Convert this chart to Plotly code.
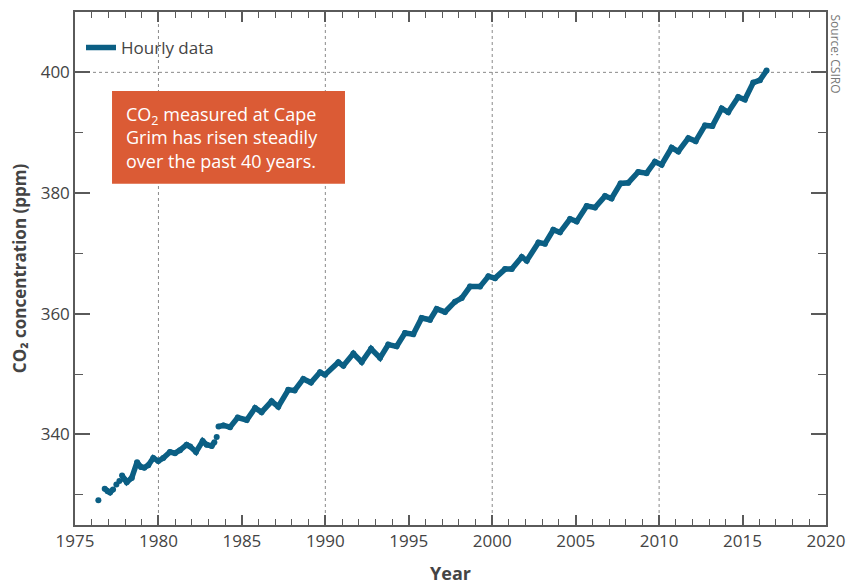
import plotly.graph_objects as go

# Cape Grim CO2 (ppm); None marks data gaps
years = [1976.40, None,
         1976.78, 1976.95, 1977.10, 1977.28, None,
         1977.48, None, 1977.66, None,
         1977.82, 1977.95, 1978.10, 1978.40, 1978.72, 1978.95, 1979.15, 1979.39,
         1979.69, 1979.99, 1980.29, 1980.69, 1980.99, 1981.29, 1981.69, 1981.90,
         1982.25, 1982.65, 1982.89, 1983.19, 1983.35, None,
         1983.49, None,
         1983.60, 1983.89, 1984.29, 1984.75, 1985.29, 1985.79, 1986.18, 1986.78,
         1987.18, 1987.78, 1988.16, 1988.68, 1989.14, 1989.68, 1989.98, 1990.78,
         1991.08, 1991.68, 1992.18, 1992.74, 1993.28, 1993.77, 1994.27, 1994.77,
         1995.27, 1995.77, 1996.27, 1996.67, 1997.17, 1997.77, 1998.17, 1998.67,
         1999.27, 1999.77, 2000.17, 2000.77, 2001.17, 2001.77, 2002.07, 2002.77,
         2003.16, 2003.66, 2004.06, 2004.66, 2005.06, 2005.66, 2006.16, 2006.76,
         2007.15, 2007.69, 2008.15, 2008.75, 2009.25, 2009.75, 2010.15, 2010.75,
         2011.15, 2011.75, 2012.19, 2012.75, 2013.19, 2013.75, 2014.14, 2014.74,
         2015.14, 2015.64, 2016.04, 2016.44]
co2 = [329.1, None,
       331.0, 330.6, 330.4, 330.9, None,
       331.7, None, 332.3, None,
       333.2, 332.6, 332.1, 332.8, 335.4, 334.6, 334.5, 334.9,
       336.1, 335.6, 336.1, 337.1, 336.9, 337.4, 338.3, 338.0,
       337.1, 338.9, 338.3, 338.1, 338.7, None,
       339.6, None,
       341.3, 341.5, 341.2, 342.8, 342.4, 344.4, 343.7, 345.5,
       344.6, 347.4, 347.3, 349.2, 348.6, 350.3, 349.9, 351.95,
       351.4, 353.4, 352.0, 354.2, 352.7, 354.9, 354.6, 356.8,
       356.6, 359.3, 359.0, 360.8, 360.3, 362.0, 362.6, 364.5,
       364.5, 366.2, 365.9, 367.4, 367.4, 369.4, 368.8, 371.8,
       371.6, 373.9, 373.5, 375.7, 375.3, 377.85, 377.6, 379.5,
       379.1, 381.6, 381.7, 383.5, 383.3, 385.2, 384.7, 387.5,
       386.9, 389.1, 388.6, 391.2, 391.1, 394.0, 393.4, 395.9,
       395.5, 398.3, 398.7, 400.3]

x_grid = [1980, 1990, 2000, 2010]
y_grid = [400]

LINE = "#0b5f84"
TXT = "#444444"
AX = "#5a5a5a"
FONT = "Open Sans"

fig = go.Figure()
fig.add_trace(go.Scatter(
    x=years, y=co2, mode="lines", name="Hourly data",
    line=dict(color=LINE, width=5.5), connectgaps=False,
))
# round the ends / isolated readings
fig.add_trace(go.Scatter(
    x=years, y=co2, mode="markers", showlegend=False,
    marker=dict(color=LINE, size=6),
))

for gx in x_grid:
    fig.add_vline(x=gx, line=dict(color="#8a8a8a", width=1, dash="dot"), layer="below")
for gy in y_grid:
    fig.add_hline(y=gy, line=dict(color="#8a8a8a", width=1, dash="dot"), layer="below")

# Callout box
fig.add_shape(type="rect", xref="paper", yref="paper",
              x0=0.0493, x1=0.3595, y0=0.665, y1=0.846,
              fillcolor="#db5b35", line=dict(width=0), layer="above")
fig.add_annotation(xref="paper", yref="paper", x=0.0653, y=0.756,
                   xanchor="left", yanchor="middle", align="left", showarrow=False,
                   text="CO<sub>2</sub> measured at Cape<br>Grim has risen steadily<br>over the past 40 years.",
                   font=dict(family=FONT, size=18, color="white"))
fig.add_annotation(xref="paper", yref="paper", x=1.012, y=1.0,
                   xanchor="center", yanchor="top", textangle=90, showarrow=False,
                   text="Source: CSIRO", font=dict(family=FONT, size=12, color="#777777"))

fig.update_layout(
    width=864, height=586,
    margin=dict(l=67, r=46, t=4, b=69, autoexpand=False),
    paper_bgcolor="white", plot_bgcolor="white",
    font=dict(family=FONT, color=TXT),
    showlegend=True,
    legend=dict(x=0.008, y=0.965, xanchor="left", yanchor="top",
                font=dict(family=FONT, size=17, color=TXT),
                bgcolor="rgba(0,0,0,0)", itemwidth=30),
    xaxis=dict(range=[1975, 2020], dtick=5, tick0=1975, showgrid=False, zeroline=False,
               automargin=False,
               ticks="inside", ticklen=10, tickwidth=1.5, tickcolor=AX,
               minor=dict(dtick=1, ticks="inside", ticklen=6, tickwidth=1.2, tickcolor=AX, showgrid=False),
               showline=True, linecolor=AX, linewidth=1.5, mirror="allticks",
               tickfont=dict(family=FONT, size=17, color=TXT),
               title=dict(text="<b>Year</b>", font=dict(family=FONT, size=18, color=TXT), standoff=16)),
    yaxis=dict(range=[325, 410], dtick=20, tick0=340, showgrid=False, zeroline=False,
               automargin=False,
               ticks="inside", ticklen=15, tickwidth=1.5, tickcolor=AX,
               minor=dict(dtick=10, ticks="inside", ticklen=8, tickwidth=1.2, tickcolor=AX, showgrid=False),
               showline=True, linecolor=AX, linewidth=1.5, mirror="allticks",
               tickfont=dict(family=FONT, size=17, color=TXT),
               title=dict(text="<b>CO₂ concentration (ppm)</b>", font=dict(family=FONT, size=17, color=TXT), standoff=10)),
)

fig.write_html("out.html")
